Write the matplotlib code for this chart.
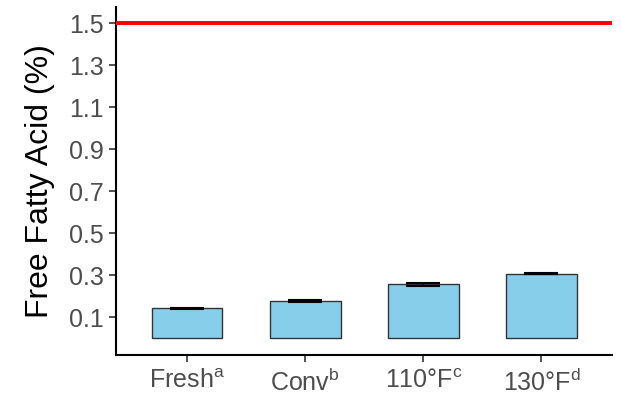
import matplotlib
matplotlib.use("Agg")
import matplotlib.pyplot as plt
import numpy as np

# free fatty acid by storage treatment
treatments = ["Fresh", "Conv", "110°F", "130°F"]
letters = ["a", "b", "c", "d"]
ffa_mean = [0.143, 0.176, 0.256, 0.308]
ffa_se = [0.003, 0.004, 0.008, 0.002]
limit = 1.5
y_ticks = [0.1, 0.3, 0.5, 0.7, 0.9, 1.1, 1.3, 1.5]

plt.rcParams['font.family'] = ['Liberation Sans', 'DejaVu Sans']
plt.rcParams['mathtext.fontset'] = 'custom'
plt.rcParams['mathtext.rm'] = 'Liberation Sans'

fig = plt.figure(figsize=(6.21, 3.98), dpi=100)
ax = fig.add_axes([0.187, 0.108, 0.799, 0.874])

x = np.arange(1, len(treatments) + 1)
ax.bar(x, ffa_mean, width=0.6, color="#87CEEB", edgecolor="#333333", linewidth=1.0, zorder=2)
ax.errorbar(x, ffa_mean, yerr=ffa_se, fmt="none", ecolor="black",
            elinewidth=1.0, capsize=12, capthick=1.5, zorder=3)
ax.axhline(limit, color="red", linewidth=2.8, zorder=4)

ax.set_xlim(0.4, 4.6)
ax.set_ylim(-0.08, 1.576)
ax.set_yticks(y_ticks)
ax.set_yticklabels([f"{v:.1f}" for v in y_ticks])
ax.set_xticks(x)
ax.set_xticklabels([rf"{t}$^{{\mathregular{{{l}}}}}$" for t, l in zip(treatments, letters)])

ax.set_ylabel("Free Fatty Acid (%)", fontsize=23, color="black", labelpad=10)
ax.tick_params(axis="both", labelsize=18, colors="#333333", length=5, width=1.2,
               labelcolor="#4d4d4d")
ax.tick_params(axis="x", pad=5)
ax.tick_params(axis="y", pad=4)

for side in ["top", "right"]:
    ax.spines[side].set_visible(False)
for side in ["left", "bottom"]:
    ax.spines[side].set_linewidth(1.5)
    ax.spines[side].set_color("black")

fig.savefig("out.png", dpi=100)
